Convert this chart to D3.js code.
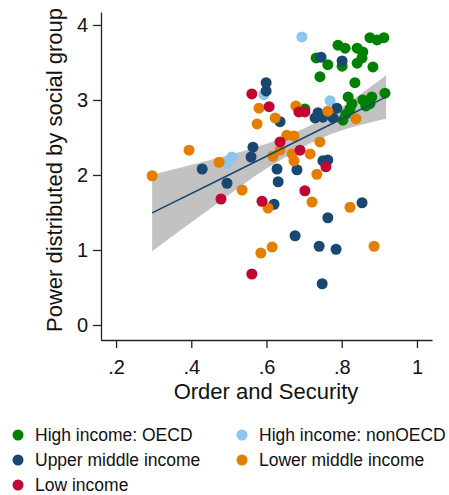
<!DOCTYPE html>
<html>
<head>
<meta charset="utf-8">
<script src="https://cdn.jsdelivr.net/npm/d3@7"></script>
<style>
  body { margin: 0; background: #fff; }
  svg { font-family: "Liberation Sans", Arial, sans-serif; }
</style>
</head>
<body>
<div id="chart"></div>
<script>
// Data (Order and Security, Power distributed by social group)
var highOECD = [
  [0.790, 3.73], [0.809, 3.69], [0.841, 3.69], [0.856, 3.64], [0.875, 3.83],
  [0.894, 3.80], [0.912, 3.83], [0.854, 3.56], [0.841, 3.49], [0.732, 3.56],
  [0.763, 3.47], [0.801, 3.45], [0.883, 3.44], [0.742, 3.31], [0.835, 3.23],
  [0.915, 3.09], [0.817, 3.04], [0.880, 3.04], [0.856, 3.00], [0.875, 2.95],
  [0.827, 2.95], [0.822, 2.88], [0.811, 2.81], [0.803, 2.73], [0.702, 2.88],
  [0.864, 2.92]
];
var highNonOECD = [
  [0.694, 3.84], [0.593, 3.07], [0.769, 2.99], [0.508, 2.24], [0.495, 2.16]
];
var upperMiddle = [
  [0.599, 3.23], [0.599, 3.12], [0.745, 3.57], [0.801, 3.52], [0.564, 2.37],
  [0.559, 2.24], [0.429, 2.08], [0.628, 2.08], [0.631, 1.91], [0.495, 1.89],
  [0.620, 1.61], [0.636, 2.71], [0.737, 2.83], [0.729, 2.76], [0.787, 2.89],
  [0.777, 2.76], [0.750, 2.77], [0.681, 2.07], [0.750, 2.19], [0.763, 2.20],
  [0.854, 1.63], [0.763, 1.43], [0.676, 1.19], [0.740, 1.05], [0.785, 1.01],
  [0.748, 0.55]
];
var lowerMiddle = [
  [0.296, 1.99], [0.394, 2.33], [0.474, 2.17], [0.580, 2.89], [0.623, 2.76],
  [0.575, 2.68], [0.617, 2.25], [0.535, 1.80], [0.604, 1.56], [0.615, 1.04],
  [0.585, 0.96], [0.678, 2.92], [0.763, 2.85], [0.838, 2.75], [0.654, 2.53],
  [0.673, 2.52], [0.742, 2.44], [0.636, 2.33], [0.668, 2.28], [0.716, 2.28],
  [0.673, 2.19], [0.734, 2.01], [0.721, 1.64], [0.822, 1.57], [0.886, 1.05]
];
var lowIncome = [
  [0.561, 3.08], [0.607, 2.91], [0.686, 2.84], [0.702, 2.84], [0.636, 2.44],
  [0.689, 2.33], [0.758, 2.11], [0.479, 1.68], [0.588, 1.65], [0.702, 1.79],
  [0.561, 0.68]
];

// Fitted line with 95% CI band, read at a few x positions
var fitX  = [0.296, 0.45, 0.60, 0.75, 0.918];
var fitY  = [1.494, 1.877, 2.250, 2.623, 3.041];
var ciLo  = [0.984, 1.550, 2.085, 2.500, 2.750];
var ciHi  = [2.004, 2.200, 2.415, 2.750, 3.330];

var groupNames  = ['High income: OECD', 'High income: nonOECD', 'Upper middle income',
                   'Lower middle income', 'Low income'];
var groupColors = ['#008000', '#8ec5ec', '#1a476f', '#e37e00', '#c10534'];
var groupData   = [highOECD, highNonOECD, upperMiddle, lowerMiddle, lowIncome];

var xTicks = [0.2, 0.4, 0.6, 0.8, 1];
var yTicks = [0, 1, 2, 3, 4];

var width = 449, height = 495;

var svg = d3.select('#chart')
            .append('svg')
            .attr('width', width)
            .attr('height', height);

var x = d3.scaleLinear().domain([0.16, 1.04]).range([101, 432]);
var y = d3.scaleLinear().domain([-0.2, 4.173]).range([340, 12]);

// CI band
var band = fitX.map(function(d, i) { return {x: d, lo: ciLo[i], hi: ciHi[i]}; });
svg.append('path')
   .datum(band)
   .attr('fill', '#c2c2c2')
   .attr('d', d3.area()
     .x(function(d) { return x(d.x); })
     .y0(function(d) { return y(d.lo); })
     .y1(function(d) { return y(d.hi); })
     .curve(d3.curveMonotoneX));

// scatter points, one layer per income group
groupData.forEach(function(pts, gi) {
  svg.append('g')
     .selectAll('circle')
     .data(pts)
     .enter()
     .append('circle')
      .attr('cx', function(d) { return x(d[0]); })
      .attr('cy', function(d) { return y(d[1]); })
      .attr('r', 5.5)
      .attr('fill', groupColors[gi]);
});

// fitted line
svg.append('path')
   .datum(fitX.map(function(d, i) { return [d, fitY[i]]; }))
   .attr('fill', 'none')
   .attr('stroke', '#1a476f')
   .attr('stroke-width', 1.5)
   .attr('d', d3.line()
     .x(function(d) { return x(d[0]); })
     .y(function(d) { return y(d[1]); }));

// axes
var x_axis = d3.axisBottom(x)
  .tickValues(xTicks)
  .tickSizeInner(8)
  .tickSizeOuter(0)
  .tickPadding(12)
  .tickFormat(function(d) { return d === 1 ? '1' : String(d).replace('0.', '.'); });

var y_axis = d3.axisLeft(y)
  .tickValues(yTicks)
  .tickSizeInner(8)
  .tickSizeOuter(0)
  .tickPadding(5)
  .tickFormat(d3.format('d'));

var gx = svg.append('g')
  .attr('transform', 'translate(0,340)')
  .call(x_axis);

var gy = svg.append('g')
  .attr('transform', 'translate(101,0)')
  .call(y_axis);

[gx, gy].forEach(function(g) {
  g.selectAll('path, line').attr('stroke', '#222').attr('stroke-width', 1.3);
  g.selectAll('text').attr('font-size', 20).attr('fill', '#111')
   .attr('font-family', '"Liberation Sans", Arial, sans-serif');
});

// axis titles
svg.append('text')
   .attr('x', 266)
   .attr('y', 399)
   .attr('text-anchor', 'middle')
   .attr('font-size', 22)
   .attr('fill', '#111')
   .text('Order and Security');

svg.append('text')
   .attr('transform', 'translate(62,170) rotate(-90)')
   .attr('text-anchor', 'middle')
   .attr('font-size', 22)
   .attr('fill', '#111')
   .text('Power distributed by social group');

// legend, two columns
var legend = svg.append('g')
  .selectAll('g')
  .data(groupNames)
  .enter()
  .append('g')
   .attr('transform', function(d, i) {
     return 'translate(' + (18 + (i % 2) * 224) + ',' + (435 + Math.floor(i / 2) * 25) + ')';
   });

legend.append('circle')
  .attr('r', 5.5)
  .attr('fill', function(d, i) { return groupColors[i]; });

legend.append('text')
  .attr('x', 17)
  .attr('dy', '0.35em')
  .attr('font-size', 17.5)
  .attr('fill', '#111')
  .text(function(d) { return d; });
</script>
</body>
</html>
